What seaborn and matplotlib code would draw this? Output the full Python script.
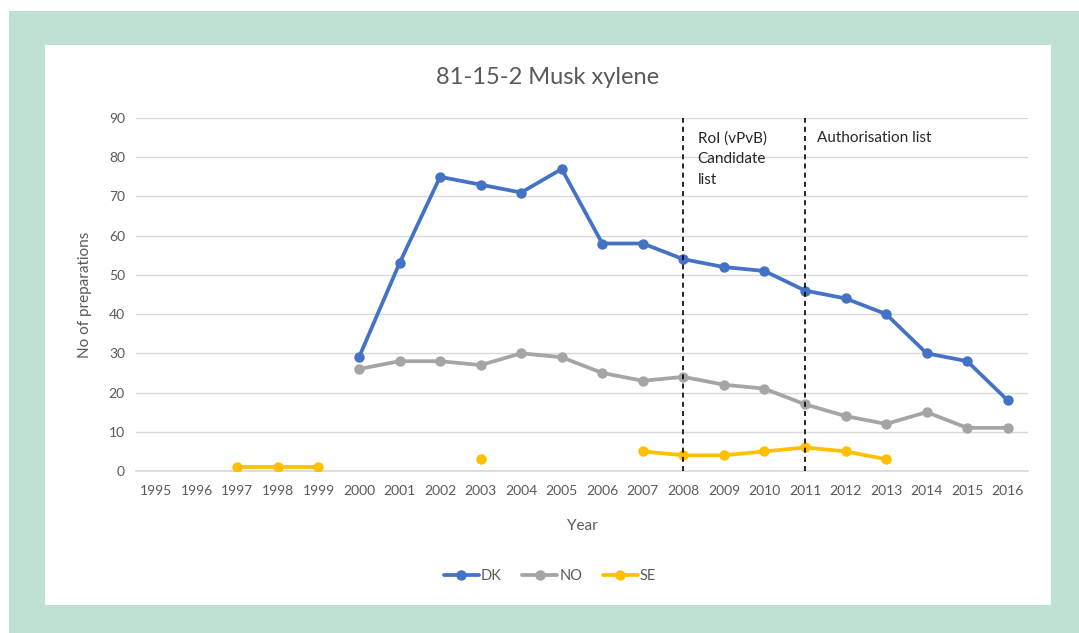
import numpy as np
import pandas as pd
import matplotlib
matplotlib.use("Agg")
import matplotlib.pyplot as plt
from matplotlib.lines import Line2D
from matplotlib.patches import Rectangle
import seaborn as sns

# Number of preparations containing musk xylene (CAS 81-15-2), per country and year
years = list(range(1995, 2017))
dk_years = [2000, 2001, 2002, 2003, 2004, 2005, 2006, 2007, 2008,
            2009, 2010, 2011, 2012, 2013, 2014, 2015, 2016]
dk_values = [29, 53, 75, 73, 71, 77, 58, 58, 54, 52, 51, 46, 44, 40, 30, 28, 18]
no_years = [2000, 2001, 2002, 2003, 2004, 2005, 2006, 2007, 2008,
            2009, 2010, 2011, 2012, 2013, 2014, 2015, 2016]
no_values = [26, 28, 28, 27, 30, 29, 25, 23, 24, 22, 21, 17, 14, 12, 15, 11, 11]
se_years = [1997, 1998, 1999, 2003, 2007, 2008, 2009, 2010, 2011, 2012, 2013]
se_values = [1, 1, 1, 3, 5, 4, 4, 5, 6, 5, 3]

countries = ["DK", "NO", "SE"]
colors = {"DK": "#4472C4", "NO": "#A5A5A5", "SE": "#FFC000"}

# Regulatory milestones
milestone_years = [2008, 2011]
milestone_labels = ["RoI (vPvB)\nCandidate\nlist", "Authorisation list"]

y_ticks = list(range(0, 91, 10))


def to_frame(name, xs, vs):
    # consecutive years form one connected segment; gaps break the line
    seg, rows = 0, []
    prev = None
    for x, v in zip(xs, vs):
        if prev is not None and x - prev > 1:
            seg += 1
        rows.append({"Year": x, "Value": v, "Country": name, "Segment": f"{name}{seg}"})
        prev = x
    return pd.DataFrame(rows)


df = pd.concat([
    to_frame("DK", dk_years, dk_values),
    to_frame("NO", no_years, no_values),
    to_frame("SE", se_years, se_values),
], ignore_index=True)

sns.set_theme(style="white")
plt.rcParams["font.family"] = ["Lato", "DejaVu Sans"]
text_color = "#595959"

W, H = 1079, 633
fig = plt.figure(figsize=(W / 100, H / 100), dpi=100)
fig.patch.set_facecolor("white")

# green frame and white panel
fig.add_artist(Rectangle((9 / W, 0), 1 - 9 / W, 1 - 11 / H, transform=fig.transFigure,
                         facecolor="#BFE1D3", edgecolor="none", zorder=-10))
fig.add_artist(Rectangle((45 / W, 1 - 605 / H), (1051 - 45) / W, (605 - 45) / H,
                         transform=fig.transFigure, facecolor="white",
                         edgecolor="none", zorder=-9))

left, right = 136 / W, 1028 / W
bottom, top = 1 - 471 / H, 1 - 118 / H
ax = fig.add_axes([left, bottom, right - left, top - bottom])
ax.set_facecolor("none")

sns.lineplot(data=df, x="Year", y="Value", hue="Country", units="Segment",
             estimator=None, palette=colors, hue_order=countries,
             marker="o", markersize=7.5, markeredgewidth=0, linewidth=2.7,
             legend=False, ax=ax, zorder=3)

ax.set_xlim(1994.5, 2016.5)
ax.set_ylim(0, 90)
ax.set_xticks(years)
ax.set_xticklabels([str(y) for y in years])
ax.set_yticks(y_ticks)
ax.grid(axis="y", color="#D9D9D9", linewidth=1)
ax.grid(axis="x", visible=False)
for s in ax.spines.values():
    s.set_visible(False)
ax.spines["bottom"].set_visible(True)
ax.spines["bottom"].set_color("#D9D9D9")
ax.tick_params(axis="both", length=0, labelsize=10, colors=text_color, pad=8)
ax.tick_params(axis="x", pad=10)

ax.set_xlabel("Year", fontsize=11, color=text_color, labelpad=16)
ax.set_ylabel("No of preparations", fontsize=11, color=text_color, labelpad=12)
fig.text(548 / W, 1 - 77 / H, "81-15-2 Musk xylene", fontsize=17,
         color=text_color, ha="center", va="center")

for x in milestone_years:
    ax.axvline(x, color="black", linestyle=(0, (3, 2.5)), linewidth=1.2, zorder=4)
ax.text(milestone_years[0] + 0.35, 86.6, milestone_labels[0], fontsize=11,
        color="#262626", va="top", ha="left", linespacing=1.6)
ax.text(milestone_years[1] + 0.3, 86.6, milestone_labels[1], fontsize=11,
        color="#262626", va="top", ha="left")

handles = [Line2D([], [], color=colors[c], linewidth=2.7, marker="o",
                  markersize=7.5, markeredgewidth=0) for c in countries]
fig.legend(handles, countries, loc="center", bbox_to_anchor=(550 / W, 1 - 576 / H),
           ncol=3, frameon=False, fontsize=10.5, labelcolor=text_color,
           handlelength=2.4, handletextpad=0.15, columnspacing=1.4)

fig.savefig("out.png", dpi=100, facecolor=fig.get_facecolor())
